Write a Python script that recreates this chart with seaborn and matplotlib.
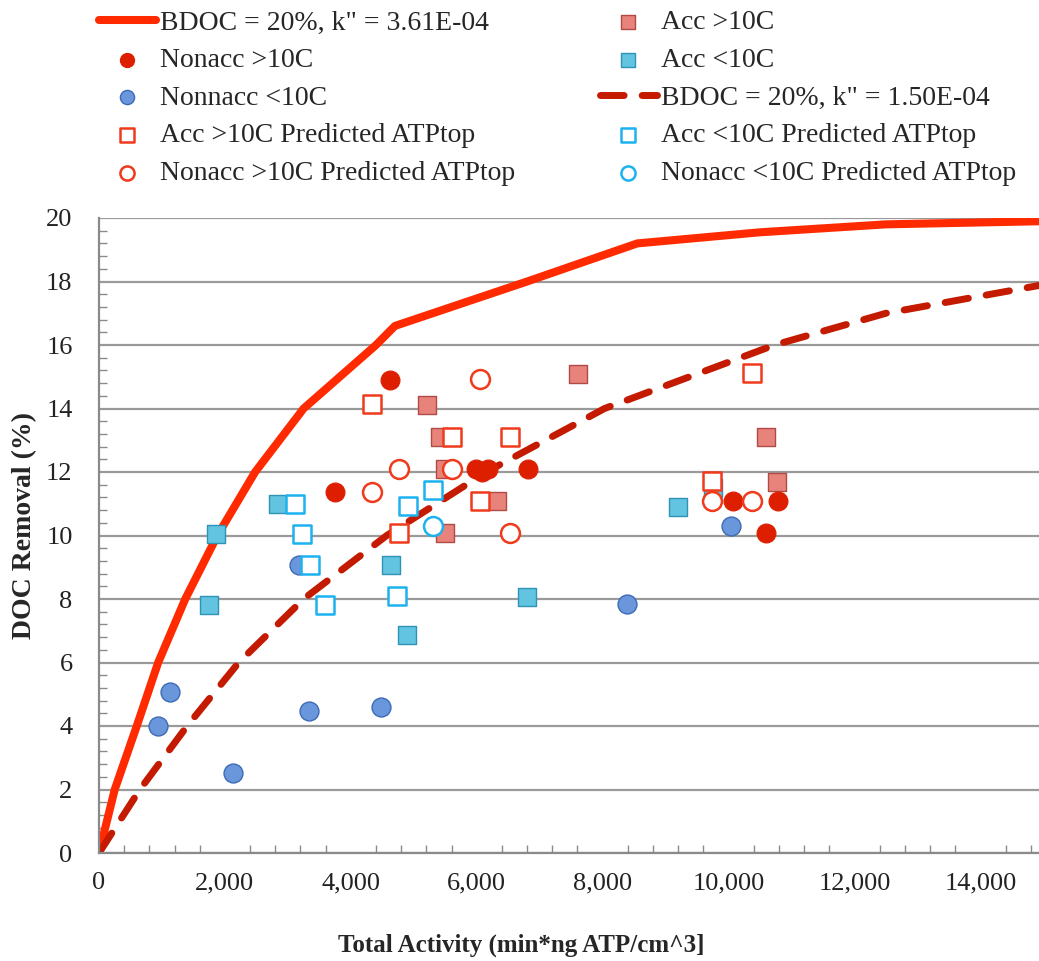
import matplotlib
matplotlib.use("Agg")
import matplotlib.pyplot as plt
import seaborn as sns
import pandas as pd
from matplotlib.ticker import MultipleLocator, FuncFormatter

# ---- model curves ----
solid_x = [0, 250, 600, 940, 1370, 1880, 2480, 3250, 4400, 4700, 5600, 6800, 8550, 10500, 12500, 15000]
solid_y = [0, 2, 4, 6, 8, 10, 12, 14, 16, 16.6, 17.2, 18.0, 19.2, 19.55, 19.8, 19.9]
dashed_x = [0, 650, 1400, 2220, 3250, 4570, 6150, 8030, 10730, 12500, 15000]
dashed_y = [0, 2, 4, 6, 8, 10, 12, 14, 16, 17.0, 17.9]

# ---- data series ----
nonacc_hi_x = [4623, 3749, 5990, 6080, 6180, 6815, 10066, 10791, 10596]
nonacc_hi_y = [14.9, 11.37, 12.1, 12.0, 12.1, 12.1, 11.1, 11.1, 10.07]
nonacc_lo_x = [1128, 932, 2123, 3342, 4474, 3182, 8383, 10035]
nonacc_lo_y = [5.06, 4.01, 2.51, 4.48, 4.61, 9.07, 7.84, 10.3]
acc_hi_x = [5205, 7614, 5417, 5496, 6318, 5496, 10596, 10765]
acc_hi_y = [14.11, 15.1, 13.09, 12.1, 11.1, 10.07, 13.09, 11.69]
acc_lo_x = [1859, 1753, 2849, 4639, 4898, 6794, 9203, 9759]
acc_lo_y = [10.05, 7.81, 10.99, 9.07, 6.87, 8.07, 10.91, 11.49]
acc_hi_pred_x = [4342, 5602, 6529, 10368, 6052, 4771, 9738]
acc_hi_pred_y = [14.13, 13.09, 13.09, 15.13, 11.1, 10.07, 11.73]
nonacc_hi_pred_x = [6052, 4771, 4342, 5602, 6529, 9738, 10368]
nonacc_hi_pred_y = [14.93, 12.1, 11.37, 12.1, 10.07, 11.1, 11.1]
acc_lo_pred_x = [3114, 3220, 3352, 3590, 4903, 5300, 4729]
acc_lo_pred_y = [10.99, 10.05, 9.07, 7.81, 10.92, 11.44, 8.09]
nonacc_lo_pred_x = [5300]
nonacc_lo_pred_y = [10.3]

labels = {
    "solid": 'BDOC = 20%, k" = 3.61E-04',
    "dashed": 'BDOC = 20%, k" = 1.50E-04',
    "nonacc_hi": "Nonacc >10C",
    "nonacc_lo": "Nonnacc <10C",
    "acc_hi": "Acc >10C",
    "acc_lo": "Acc <10C",
    "acc_hi_pred": "Acc >10C Predicted ATPtop",
    "nonacc_hi_pred": "Nonacc >10C Predicted ATPtop",
    "acc_lo_pred": "Acc <10C Predicted ATPtop",
    "nonacc_lo_pred": "Nonacc <10C Predicted ATPtop",
}

sns.set_style("white")
plt.rcParams["font.family"] = ["Liberation Serif", "DejaVu Serif"]

W, H = 1039, 961
fig = plt.figure(figsize=(W / 100, H / 100), dpi=100)
ax = fig.add_axes([99 / W, 108 / H, 940 / W, 635 / H])

RED = "#ff2a00"
DRED = "#c41a00"
PRED = "#f03a1c"
PBLUE = "#1cb2f0"

# lines
sns.lineplot(x=solid_x, y=solid_y, ax=ax, color=RED, linewidth=5.8,
             label=labels["solid"], sort=False, zorder=2)
ax.lines[-1].set_solid_capstyle("round")
ax.lines[-1].set_solid_joinstyle("round")
sns.lineplot(x=dashed_x, y=dashed_y, ax=ax, color=DRED, linewidth=5.0,
             label=labels["dashed"], sort=False, zorder=2)
ax.lines[-1].set_dashes((3.4, 2.6))
ax.lines[-1].set_dash_capstyle("round")

S = 185
def sc(x, y, marker, face, edge, lw, key, z):
    sns.scatterplot(x=x, y=y, ax=ax, marker=marker, s=S, color=face,
                    edgecolor=edge, linewidth=lw, label=labels[key], zorder=z)

sc(acc_hi_x, acc_hi_y, "s", "#e8837c", "#b04a45", 1.0, "acc_hi", 3)
sc(nonacc_hi_x, nonacc_hi_y, "o", "#dd1f00", "#dd1f00", 0.8, "nonacc_hi", 3)
sc(acc_lo_x, acc_lo_y, "s", "#62c4e0", "#2e93b5", 1.0, "acc_lo", 3)
sc(nonacc_lo_x, nonacc_lo_y, "o", "#6a96dc", "#3c6bb5", 1.0, "nonacc_lo", 3)
sc(acc_hi_pred_x, acc_hi_pred_y, "s", "white", PRED, 1.8, "acc_hi_pred", 4)
sc(acc_lo_pred_x, acc_lo_pred_y, "s", "white", PBLUE, 1.8, "acc_lo_pred", 4)
sc(nonacc_hi_pred_x, nonacc_hi_pred_y, "o", "white", PRED, 1.8, "nonacc_hi_pred", 4)
sc(nonacc_lo_pred_x, nonacc_lo_pred_y, "o", "white", PBLUE, 1.8, "nonacc_lo_pred", 4)

# axes styling
ax.set_xlim(0, 14930)
ax.set_ylim(0, 20)
ax.xaxis.set_major_locator(MultipleLocator(2000))
ax.xaxis.set_minor_locator(MultipleLocator(400))
ax.yaxis.set_major_locator(MultipleLocator(2))
ax.yaxis.set_minor_locator(MultipleLocator(0.4))
ax.xaxis.set_major_formatter(FuncFormatter(lambda v, p: f"{int(v):,}"))
ax.yaxis.set_major_formatter(FuncFormatter(lambda v, p: f"{int(v)}"))
ax.grid(axis="y", which="major", color="#9a9a9a", linewidth=1.6)
ax.grid(axis="x", visible=False)
ax.set_axisbelow(True)
for s in ["top", "right"]:
    ax.spines[s].set_visible(False)
for s in ["left", "bottom"]:
    ax.spines[s].set_color("#8a8a8a")
    ax.spines[s].set_linewidth(1.6)
ax.tick_params(axis="x", which="major", direction="inout", length=12, width=1.2,
               color="#8a8a8a", labelsize=19, pad=8, labelcolor="#222222")
ax.tick_params(axis="x", which="minor", direction="in", length=6, width=1.0,
               color="#8a8a8a", bottom=True)
ax.tick_params(axis="y", which="major", direction="out", length=7, width=1.2,
               color="#8a8a8a", labelsize=19, pad=12, labelcolor="#222222")
ax.tick_params(axis="y", which="minor", direction="in", length=6, width=1.0,
               color="#8a8a8a", left=True)

ax.set_xlabel("Total Activity (min*ng ATP/cm^3]", fontsize=18, fontweight="bold")
ax.set_ylabel("DOC Removal (%)", fontsize=20, fontweight="bold")
ax.xaxis.set_label_coords(0.449, -0.127)
ax.yaxis.set_label_coords(-0.066, 0.515)

# legends
handles, labs = ax.get_legend_handles_labels()
hmap = dict(zip(labs, handles))
left_keys = ["solid", "nonacc_hi", "nonacc_lo", "acc_hi_pred", "nonacc_hi_pred"]
right_keys = ["acc_hi", "acc_lo", "dashed", "acc_lo_pred", "nonacc_lo_pred"]
common = dict(frameon=False, fontsize=20, handlelength=2.05, handletextpad=0.15,
              borderpad=0, borderaxespad=0, labelspacing=0.44, markerscale=0.75,
              scatterpoints=1, loc="upper left")
leg1 = fig.legend([hmap[labels[k]] for k in left_keys], [labels[k] for k in left_keys],
                  bbox_to_anchor=(99 / W, 1 - 10 / H), **common)
leg2 = fig.legend([hmap[labels[k]] for k in right_keys], [labels[k] for k in right_keys],
                  bbox_to_anchor=(600 / W, 1 - 10 / H), **common)
if ax.get_legend() is not None:
    ax.get_legend().remove()

fig.savefig("out.png", dpi=100)
